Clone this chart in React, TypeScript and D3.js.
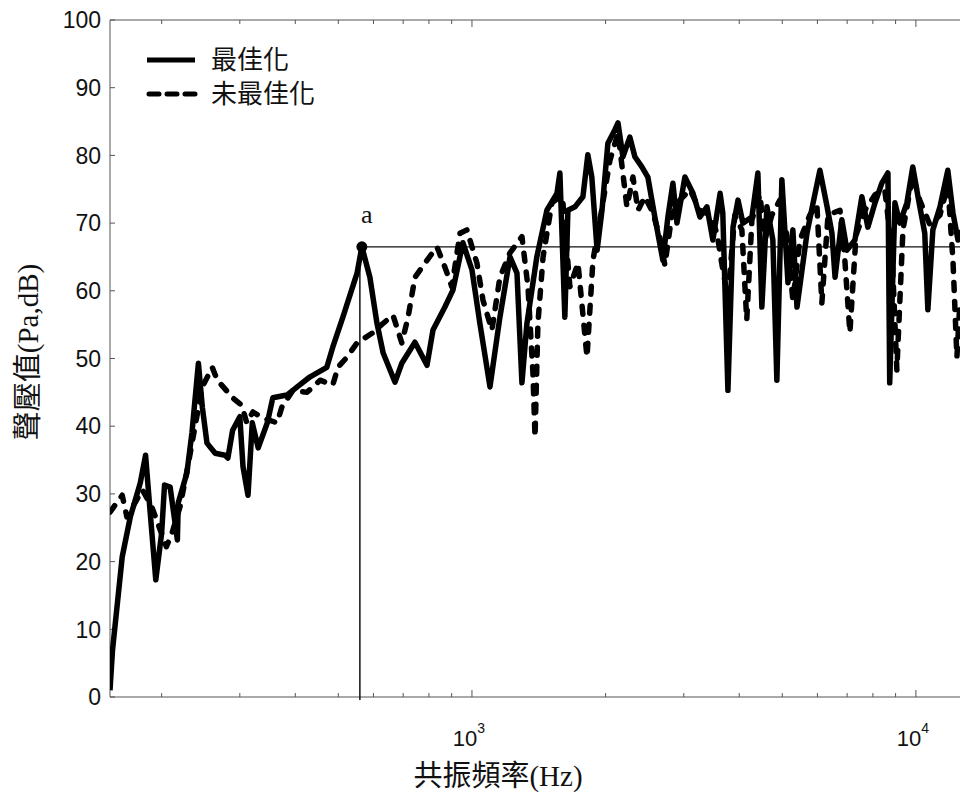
import React from 'react';
import * as d3 from 'd3';

// 最佳化 (solid)
const optFreq = [153, 155, 163, 170, 179, 184, 188, 194, 200, 203, 209, 217, 218, 228, 234, 242, 247, 253, 264, 278, 282, 289, 300, 305, 313, 320, 330, 346, 356, 383, 404, 432, 471, 486, 512, 551, 565, 589, 611, 631, 671, 695, 744, 792, 817, 869, 906, 954, 1000, 1042, 1098, 1156, 1218, 1263, 1296, 1330, 1400, 1475, 1554, 1578, 1619, 1645, 1706, 1778, 1824, 1862, 1914, 1963, 2024, 2099, 2133, 2188, 2268, 2328, 2414, 2490, 2582, 2692, 2763, 2836, 2896, 3018, 3147, 3263, 3383, 3489, 3622, 3673, 3772, 3873, 3975, 4077, 4272, 4406, 4498, 4618, 4762, 4862, 4990, 5150, 5283, 5397, 5684, 5868, 6078, 6310, 6470, 6575, 6810, 6995, 7289, 7556, 7795, 8090, 8380, 8650, 8730, 8970, 9200, 9544, 9840, 10110, 10470, 10640, 10920, 11330, 11800, 12120, 12440, 12570];
const optDb = [1.0, 6.9, 20.7, 26.6, 31.6, 35.7, 28.1, 17.3, 24.2, 31.3, 31.0, 23.2, 28.7, 33.1, 39.0, 49.3, 42.8, 37.5, 36.0, 35.7, 35.3, 39.4, 41.4, 34.0, 29.8, 40.5, 36.8, 40.5, 44.2, 44.6, 45.8, 47.3, 48.7, 51.7, 56.1, 62.6, 66.5, 62.0, 55.2, 50.8, 46.5, 49.3, 52.4, 49.0, 54.2, 57.6, 60.1, 67.1, 63.1, 55.2, 45.8, 56.1, 65.0, 62.6, 46.4, 55.2, 65.0, 71.9, 74.4, 77.4, 56.1, 71.9, 72.4, 73.9, 80.1, 76.8, 66.0, 71.9, 81.8, 83.8, 84.8, 79.8, 82.7, 79.8, 78.3, 76.8, 70.9, 64.5, 70.9, 75.9, 70.0, 76.8, 74.4, 70.9, 72.4, 67.5, 74.4, 71.5, 45.3, 69.4, 73.4, 70.0, 70.9, 77.4, 57.6, 72.4, 67.5, 46.8, 76.4, 61.2, 69.0, 57.6, 68.5, 73.0, 77.8, 72.4, 68.5, 62.0, 70.5, 66.0, 67.5, 73.9, 69.4, 73.0, 75.9, 77.4, 46.4, 73.0, 70.0, 73.0, 78.3, 73.9, 68.5, 57.2, 69.0, 72.4, 77.8, 71.5, 67.5, 69.0];

// 未最佳化 (dashed)
const rawFreq = [153, 163, 167, 181, 190, 205, 211, 220, 229, 240, 247, 260, 267, 289, 303, 311, 321, 338, 364, 373, 395, 425, 455, 486, 499, 523, 551, 598, 631, 664, 695, 718, 744, 792, 834, 869, 901, 940, 974, 1026, 1059, 1109, 1156, 1218, 1296, 1337, 1372, 1387, 1408, 1446, 1514, 1578, 1603, 1662, 1733, 1816, 1873, 1943, 2046, 2133, 2234, 2305, 2366, 2452, 2557, 2650, 2720, 2820, 2940, 3097, 3263, 3436, 3563, 3673, 3772, 3910, 4055, 4159, 4272, 4452, 4570, 4738, 4938, 5120, 5283, 5480, 5768, 5984, 6140, 6340, 6745, 6918, 7101, 7330, 7680, 8090, 8510, 8830, 9060, 9350, 9840, 10200, 10760, 11330, 11800, 12120, 12370, 12570];
const rawDb = [27.3, 29.8, 26.6, 30.6, 28.1, 22.2, 24.2, 28.1, 34.0, 41.4, 45.8, 48.7, 46.8, 44.2, 43.1, 40.5, 42.1, 41.2, 40.5, 42.8, 45.3, 45.0, 46.8, 46.1, 48.7, 50.2, 52.3, 53.8, 55.2, 56.4, 52.3, 56.1, 62.0, 64.5, 66.5, 63.5, 60.6, 68.5, 69.0, 64.1, 58.6, 54.2, 62.0, 65.6, 68.0, 60.6, 47.9, 38.4, 55.2, 65.0, 73.0, 73.9, 73.0, 60.6, 64.1, 50.2, 64.5, 70.5, 79.3, 83.3, 72.4, 76.8, 71.9, 73.9, 71.5, 67.9, 63.8, 71.2, 73.4, 74.9, 71.9, 71.2, 68.5, 63.1, 59.1, 71.2, 69.0, 55.7, 70.5, 74.2, 67.5, 71.2, 73.4, 68.2, 58.6, 67.5, 71.2, 72.7, 58.2, 71.2, 71.9, 64.5, 53.8, 68.2, 71.9, 74.2, 74.9, 66.0, 48.3, 69.0, 77.1, 73.4, 69.7, 71.2, 75.6, 64.5, 50.2, 58.6];

const yTicks = [0, 10, 20, 30, 40, 50, 60, 70, 80, 90, 100];
const decadeTicks = [1000, 10000];
const pointA = { f: 565, db: 66.5 };

const W = 960;
const H = 798;
const left = 110, right = 960, top = 20, bottom = 697;

export default function App() {
  const x = d3.scaleLog().domain([153, 12570]).range([left, right]);
  const y = d3.scaleLinear().domain([0, 100]).range([bottom, top]);

  const minor: number[] = [];
  for (let p = 100; p <= 10000; p *= 10) {
    for (let k = 1; k <= 9; k++) {
      const v = p * k;
      if (v >= 153 && v <= 12570) minor.push(v);
    }
  }

  const line = d3.line<[number, number]>().x(d => x(d[0])).y(d => y(d[1]));
  const optPath = line(optFreq.map((f, i) => [f, optDb[i]]));
  const rawPath = line(rawFreq.map((f, i) => [f, rawDb[i]]));

  const axisColor = '#555';
  const sans = 'Liberation Sans, Arial, sans-serif';
  const serif = '"Liberation Serif", "DejaVu Serif", "Noto Sans CJK TC", serif';
  const cjk = '"Noto Sans CJK TC", sans-serif';

  return (
    <svg width={W} height={H} style={{ position: 'absolute', left: 0, top: 0, background: '#fff' }}>
      <defs>
        <clipPath id="plot">
          <rect x={left} y={top - 5} width={right - left} height={bottom - top + 5} />
        </clipPath>
      </defs>

      {/* frame */}
      <line x1={left} x2={right} y1={bottom} y2={bottom} stroke={axisColor} strokeWidth={1} />
      <line x1={left} x2={right} y1={top} y2={top} stroke={axisColor} strokeWidth={1} />
      <line x1={left} x2={left} y1={top} y2={bottom} stroke={axisColor} strokeWidth={1} />

      {/* x ticks */}
      {minor.map(v => {
        const major = decadeTicks.includes(v);
        const len = major ? 7 : 4;
        return (
          <g key={v}>
            <line x1={x(v)} x2={x(v)} y1={bottom} y2={bottom - len} stroke={axisColor} />
            <line x1={x(v)} x2={x(v)} y1={top} y2={top + len} stroke={axisColor} />
          </g>
        );
      })}
      {decadeTicks.map(v => (
        <text key={v} x={x(v) - 3} y={746} fontFamily={sans} fontSize={22} textAnchor="middle" fill="#111">
          10<tspan dy={-13} fontSize={14}>{Math.round(Math.log10(v))}</tspan>
        </text>
      ))}

      {/* y ticks */}
      {yTicks.map(v => (
        <g key={v}>
          <line x1={left} x2={left + 5} y1={y(v)} y2={y(v)} stroke={axisColor} />
          <text x={101} y={y(v)} dy="0.36em" fontFamily={sans} fontSize={23} textAnchor="end" fill="#111">
            {v}
          </text>
        </g>
      ))}

      {/* axis titles */}
      <text x={498} y={786} fontFamily={serif} fontSize={29} textAnchor="middle" fill="#111">
        共振頻率(Hz)
      </text>
      <text
        transform={`translate(38, 352) rotate(-90)`}
        fontFamily={serif}
        fontSize={29}
        textAnchor="middle"
        fill="#111"
      >
        聲壓值(Pa,dB)
      </text>

      {/* reference lines for point a */}
      <line x1={x(pointA.f)} x2={right} y1={y(pointA.db)} y2={y(pointA.db)} stroke="#111" strokeWidth={1.3} />
      <line x1={x(pointA.f) - 2} x2={x(pointA.f) - 2} y1={y(pointA.db)} y2={bottom + 3} stroke="#111" strokeWidth={1.5} />

      <g clipPath="url(#plot)">
        <path d={rawPath ?? ''} fill="none" stroke="#000" strokeWidth={5.5} strokeDasharray="8 11" strokeLinecap="round" strokeLinejoin="round" />
        <path d={optPath ?? ''} fill="none" stroke="#000" strokeWidth={5.5} strokeLinejoin="round" />
      </g>

      <circle cx={x(pointA.f)} cy={y(pointA.db)} r={5.5} fill="#000" />
      <text x={x(pointA.f) + 5} y={y(pointA.db) - 24} fontFamily={serif} fontSize={26} textAnchor="middle" fill="#111">
        a
      </text>

      {/* legend */}
      <line x1={147} x2={195} y1={60} y2={60} stroke="#000" strokeWidth={5} />
      <line x1={149} x2={195} y1={94} y2={94} stroke="#000" strokeWidth={5} strokeDasharray="10 8" strokeLinecap="round" />
      <text x={211} y={60} dy="0.36em" fontFamily={cjk} fontSize={26} fill="#111">最佳化</text>
      <text x={211} y={94} dy="0.36em" fontFamily={cjk} fontSize={26} fill="#111">未最佳化</text>
    </svg>
  );
}
